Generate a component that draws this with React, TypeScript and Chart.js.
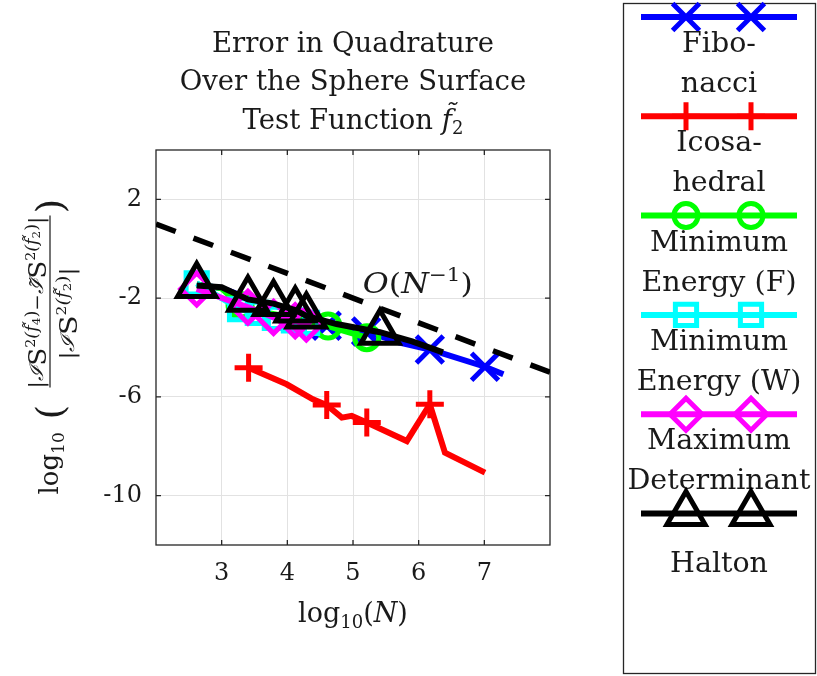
import React, { useEffect, useRef } from "react";
import { Chart, registerables } from "chart.js";
import { drawPoint } from "chart.js/helpers";

Chart.register(...registerables);

// ---------- data (log10 N, log10 relative error) ----------
const fibX = [2.62, 3.0, 3.4, 3.8, 4.2, 4.6, 5.2, 5.71, 6.17, 7.01, 7.29];
const fibY = [-1.45, -1.6, -2.0, -2.3, -2.6, -3.12, -3.35, -3.8, -4.08, -4.78, -5.08];
const fibMarks = [5, 6, 8, 9];

const icoX = [3.41, 3.99, 4.39, 4.6, 4.83, 4.98, 5.21, 5.82, 6.17, 6.4, 7.01];
const icoY = [-4.82, -5.49, -6.1, -6.33, -6.84, -6.77, -7.04, -7.79, -6.3, -8.26, -9.07];
const icoMarks = [0, 3, 6, 8];

const meFX = [2.62, 3.0, 3.28, 3.6, 3.9, 4.3, 4.62, 5.21];
const meFY = [-1.45, -1.6, -2.3, -2.55, -2.7, -2.9, -3.13, -3.6];
const meFMarks = [2, 6, 7];

const meWX = [2.62, 3.28, 3.55, 3.81, 4.1, 4.3];
const meWY = [-1.4, -2.45, -2.6, -2.8, -2.9, -3.0];
const meWMarks = [0, 1, 2, 3, 4, 5];

const mdX = [2.62, 3.4, 3.79, 4.12, 4.29];
const mdY = [-1.63, -2.37, -2.78, -2.92, -3.05];
const mdMarks = [0, 1, 2, 3, 4];

const halX = [2.62, 3.0, 3.4, 3.79, 4.12, 4.29, 4.75, 5.41, 5.9, 6.37];
const halY = [-1.49, -1.56, -2.05, -2.22, -2.48, -2.72, -3.05, -3.38, -3.75, -4.2];
const halMarks = [0, 2, 3, 4, 5, 7];

const refX = [2, 8];
const refY = [1, -5];

const xTicks = [3, 4, 5, 6, 7];
const yTicks = [-10, -6, -2, 2];

const titleLines = ["Error in Quadrature", "Over the Sphere Surface", "Test Function "];
const legendLabels = [
  ["Fibo-", "nacci"],
  ["Icosa-", "hedral"],
  ["Minimum", "Energy (F)"],
  ["Minimum", "Energy (W)"],
  ["Maximum", "Determinant"],
  ["Halton"],
];

const FONT = '"DejaVu Serif", "Liberation Serif", serif';
const TXT = "#1a1a1a";

type S = { label: string; xs: number[]; ys: number[]; marks: number[]; color: string; style: string; r: number };
const series: S[] = [
  { label: "Fibonacci", xs: fibX, ys: fibY, marks: fibMarks, color: "#0000ff", style: "crossRot", r: 19 },
  { label: "Icosahedral", xs: icoX, ys: icoY, marks: icoMarks, color: "#ff0000", style: "cross", r: 14 },
  { label: "Minimum Energy (F)", xs: meFX, ys: meFY, marks: meFMarks, color: "#00ff00", style: "circle", r: 12 },
  { label: "Minimum Energy (W)", xs: meWX, ys: meWY, marks: meWMarks, color: "#00ffff", style: "rect", r: 15 },
  { label: "Maximum Determinant", xs: mdX, ys: mdY, marks: mdMarks, color: "#ff00ff", style: "rectRot", r: 16 },
  { label: "Halton", xs: halX, ys: halY, marks: halMarks, color: "#000000", style: "triangle", r: 22 },
];

type Part = { t: string; size: number; italic?: boolean; dy?: number };
function richWidth(ctx: CanvasRenderingContext2D, parts: Part[]) {
  let w = 0;
  for (const p of parts) {
    ctx.font = `${p.italic ? "italic " : ""}${p.size}px ${FONT}`;
    w += ctx.measureText(p.t).width;
  }
  return w;
}
function drawRich(ctx: CanvasRenderingContext2D, parts: Part[], x: number, y: number, align: "left" | "center", fitW = 0) {
  const w = richWidth(ctx, parts);
  const k = fitW > 0 ? fitW / w : 1;
  ctx.save();
  ctx.translate(x, y);
  ctx.scale(k, 1);
  let cx = align === "center" ? -w / 2 : 0;
  ctx.textAlign = "left";
  ctx.textBaseline = "alphabetic";
  for (const p of parts) {
    ctx.font = `${p.italic ? "italic " : ""}${p.size}px ${FONT}`;
    ctx.fillText(p.t, cx, p.dy || 0);
    cx += ctx.measureText(p.t).width;
  }
  ctx.restore();
}

const decor = {
  id: "decor",
  beforeDatasetsDraw(chart: any) {
    const { ctx, chartArea: a, scales } = chart;
    ctx.save();
    ctx.strokeStyle = "#262626";
    ctx.lineWidth = 1.3;
    ctx.strokeRect(a.left, a.top, a.right - a.left, a.bottom - a.top);
    ctx.beginPath();
    for (const v of xTicks) {
      const px = scales.x.getPixelForValue(v);
      ctx.moveTo(px, a.bottom); ctx.lineTo(px, a.bottom - 5);
      ctx.moveTo(px, a.top); ctx.lineTo(px, a.top + 5);
    }
    for (const v of yTicks) {
      const py = scales.y.getPixelForValue(v);
      ctx.moveTo(a.left, py); ctx.lineTo(a.left + 5, py);
      ctx.moveTo(a.right, py); ctx.lineTo(a.right - 5, py);
    }
    ctx.stroke();
    ctx.restore();
  },
  afterDraw(chart: any) {
    const { ctx, chartArea: a, scales } = chart;
    ctx.save();
    ctx.fillStyle = TXT;
    const cx = (a.left + a.right) / 2;
    // title
    drawRich(ctx, [{ t: titleLines[0], size: 27.5 }], cx, 52, "center");
    drawRich(ctx, [{ t: titleLines[1], size: 27.5 }], cx, 90, "center");
    drawRich(ctx, [{ t: titleLines[2], size: 27.5 }, { t: "f\u0303", size: 27.5, italic: true }, { t: "2", size: 18, dy: 5 }], cx, 129, "center");
    // x label
    drawRich(ctx, [{ t: "log", size: 27 }, { t: "10", size: 18, dy: 6 }, { t: "(", size: 27 }, { t: "N", size: 27, italic: true }, { t: ")", size: 27 }], cx, 622, "center");
    // O(N^-1) annotation
    const ox = scales.x.getPixelForValue(5.15);
    const oy = scales.y.getPixelForValue(-1.8);
    drawRich(ctx, [{ t: "O", size: 28, italic: true }, { t: "(", size: 28 }, { t: "N", size: 28, italic: true }, { t: "\u22121", size: 19, dy: -12 }, { t: ")", size: 28 }], ox, oy, "left", 110);
    // y label (rotated)
    ctx.save();
    ctx.translate(50, (a.top + a.bottom) / 2);
    ctx.rotate(-Math.PI / 2);
    ctx.textBaseline = "alphabetic";
    ctx.textAlign = "left";
    ctx.font = `26px ${FONT}`;
    ctx.fillText("log", -147, 8);
    const wl = ctx.measureText("log").width;
    ctx.font = `17px ${FONT}`;
    ctx.fillText("10", -147 + wl, 14);
    ctx.font = `38px ${FONT}`;
    ctx.fillText("(", -72, 13);
    ctx.fillText(")", 134, 13);
    ctx.fillRect(-40, -0.6, 172, 1.2);
    const num: Part[] = [
      { t: "|", size: 20 },
      { t: "\u2110", size: 19, italic: true },
      { t: "S", size: 24, dy: 3 },
      { t: "2", size: 13, dy: -8 },
      { t: "(f\u0303", size: 16, dy: -6, italic: true },
      { t: "4", size: 11, dy: -3 },
      { t: ")", size: 16, dy: -6 },
      { t: "\u2212", size: 18 },
      { t: "\u2110\u0303", size: 19, italic: true },
      { t: "S", size: 24, dy: 3 },
      { t: "2", size: 13, dy: -8 },
      { t: "(f\u0303", size: 16, dy: -6, italic: true },
      { t: "2", size: 11, dy: -3 },
      { t: ")", size: 16, dy: -6 },
      { t: "|", size: 20 },
    ];
    const den: Part[] = [
      { t: "|", size: 20 },
      { t: "\u2110", size: 19, italic: true },
      { t: "S", size: 24, dy: 3 },
      { t: "2", size: 13, dy: -8 },
      { t: "(f\u0303", size: 16, dy: -6, italic: true },
      { t: "2", size: 11, dy: -3 },
      { t: ")", size: 16, dy: -6 },
      { t: "|", size: 20 },
    ];
    drawRich(ctx, num, 45, -7, "center", 172);
    drawRich(ctx, den, 34, 24, "center", 92);
    ctx.restore();
    // legend
    ctx.strokeStyle = "#262626";
    ctx.lineWidth = 1.3;
    ctx.strokeRect(623.5, 3.5, 192, 670);
    series.forEach((s, i) => {
      const ly = 17 + i * 99.3;
      ctx.strokeStyle = s.color;
      ctx.lineWidth = 6;
      ctx.beginPath();
      ctx.moveTo(641, ly); ctx.lineTo(797, ly);
      ctx.stroke();
      ctx.lineWidth = 5;
      ctx.fillStyle = "rgba(0,0,0,0)";
      for (const mx of [686, 751]) {
        drawPoint(ctx, { pointStyle: s.style, radius: s.r, rotation: 0, borderWidth: 5 } as any, mx, ly);
      }
      ctx.fillStyle = TXT;
      const lab = legendLabels[i];
      if (lab.length === 2) {
        drawRich(ctx, [{ t: lab[0], size: 28.5 }], 719, ly + 35, "center");
        drawRich(ctx, [{ t: lab[1], size: 28.5 }], 719, ly + 75, "center");
      } else {
        drawRich(ctx, [{ t: lab[0], size: 28.5 }], 719, ly + 58, "center");
      }
    });
    ctx.restore();
  },
};

export default function App() {
  const ref = useRef<HTMLCanvasElement | null>(null);
  useEffect(() => {
    if (!ref.current) return;
    const datasets: any[] = [
      {
        label: "ref",
        data: refX.map((x, i) => ({ x, y: refY[i] })),
        borderColor: "#000000",
        borderWidth: 5.5,
        borderDash: [21, 19],
        pointRadius: 0,
      },
    ];
    [...series].reverse().forEach((s) => {
      datasets.push({
        label: s.label,
        data: s.xs.map((x, i) => ({ x, y: s.ys[i] })),
        borderColor: s.color,
        borderWidth: 6,
        pointStyle: s.style,
        pointRadius: s.xs.map((_, i) => (s.marks.includes(i) ? s.r : 0)),
        pointBorderWidth: 5,
        pointBorderColor: s.color,
        pointBackgroundColor: "rgba(0,0,0,0)",
        tension: 0,
      });
    });
    const tickFont = { family: FONT, size: 24 };
    const chart = new Chart(ref.current, {
      type: "line",
      data: { datasets },
      plugins: [decor],
      options: {
        responsive: false,
        animation: false,
        devicePixelRatio: 1,
        events: [],
        layout: { padding: { left: 100, right: 267, top: 150, bottom: 81 } },
        plugins: { legend: { display: false }, title: { display: false }, tooltip: { enabled: false } },
        scales: {
          x: {
            type: "linear",
            min: 2,
            max: 8,
            afterBuildTicks: (s: any) => { s.ticks = xTicks.map((v) => ({ value: v })); },
            afterFit: (s: any) => { s.height = 50; },
            grid: { color: "#e2e2e2", lineWidth: 1, drawTicks: false },
            border: { display: false },
            ticks: { font: tickFont, color: TXT, padding: 14, maxRotation: 0, autoSkip: false },
          },
          y: {
            type: "linear",
            min: -12,
            max: 4,
            afterBuildTicks: (s: any) => { s.ticks = yTicks.map((v) => ({ value: v })); },
            afterFit: (s: any) => { s.width = 56; },
            grid: { color: "#e2e2e2", lineWidth: 1, drawTicks: false },
            border: { display: false },
            ticks: { font: tickFont, color: TXT, padding: 14, autoSkip: false },
          },
        },
      } as any,
    });
    return () => chart.destroy();
  }, []);
  return (
    <div style={{ position: "absolute", left: 0, top: 0, width: 817, height: 676 }}>
      <canvas ref={ref} width={817} height={676} style={{ display: "block" }} />
    </div>
  );
}
